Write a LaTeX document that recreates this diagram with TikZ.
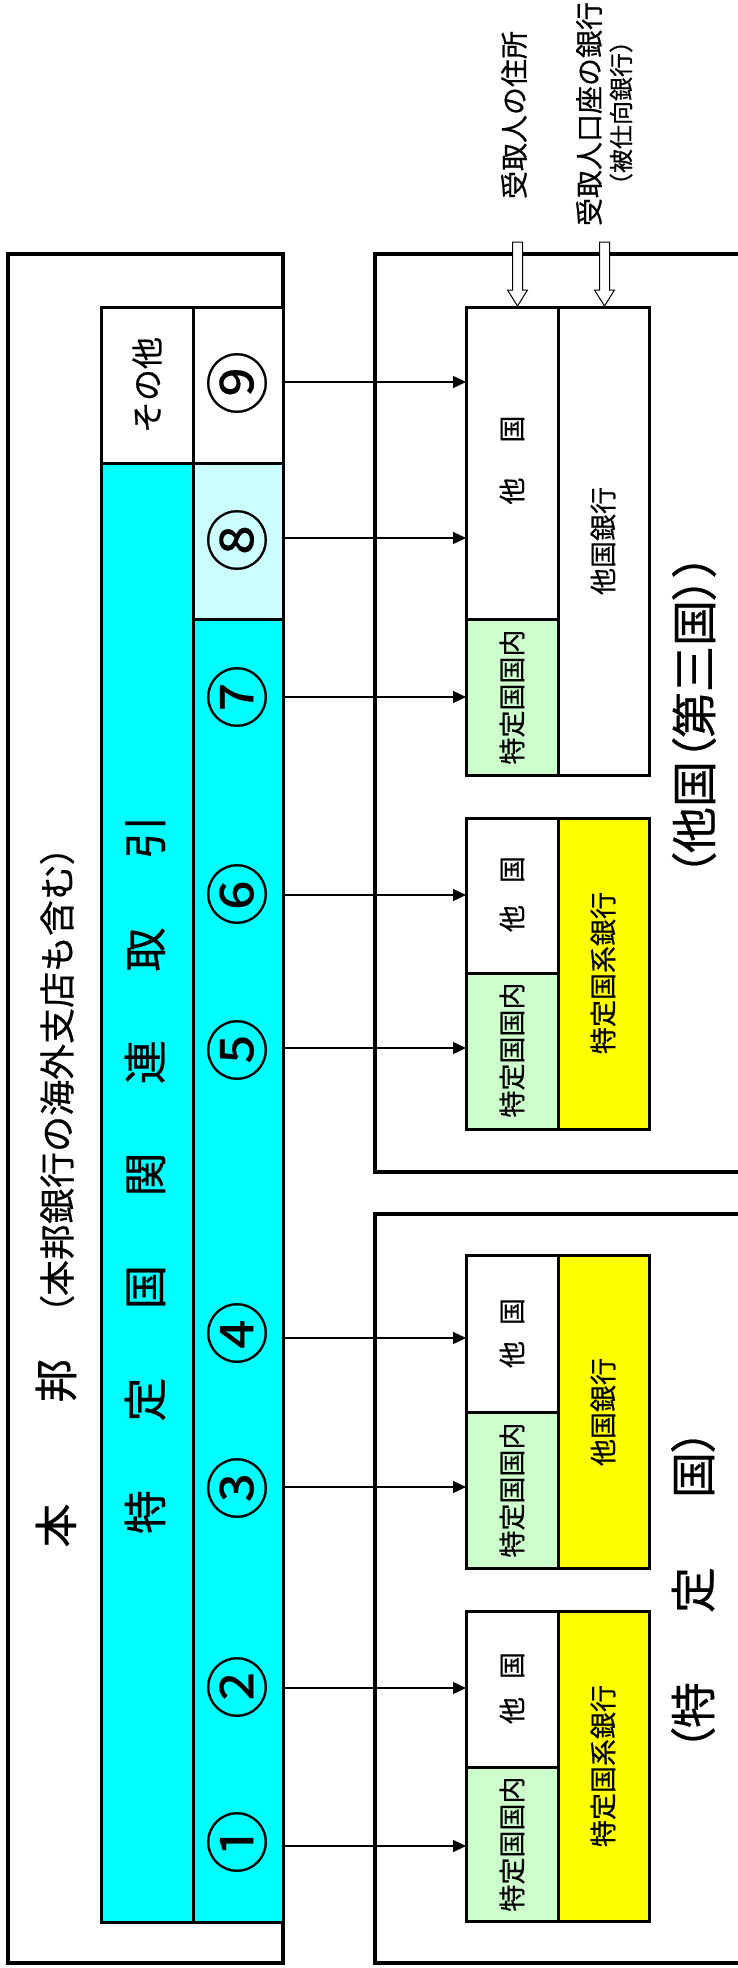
\documentclass[tikz,border=0pt]{standalone}
\usepackage{fontspec}
\setmainfont{Noto Sans CJK JP}[FakeBold=0.5]
\newfontfamily\jpp{Noto Sans CJK JP}[RawFeature=+palt,FakeBold=0.5]
\newfontfamily\circfont{Noto Sans CJK JP}[FakeBold=0.3]
\usetikzlibrary{arrows.meta,fit}
\newcommand\fsz[1]{\fontsize{#1bp}{#1bp}\selectfont}
\newcommand\lpar{{\jpp （}}
\newcommand\rpar{{\jpp ）}}
\definecolor{cyanA}{HTML}{00FFFF}
\definecolor{cyanB}{HTML}{CCFFFF}
\definecolor{greenA}{HTML}{CCFFCC}
\definecolor{yellowA}{HTML}{FFFF00}
\begin{document}
\begin{tikzpicture}[x=1bp,y=-1bp,
  every node/.style={inner sep=0pt, outer sep=0pt},
  outerbox/.style={draw, line width=4.5bp},
  cell/.style={draw, line width=3bp},
  flow/.style={line width=1.3bp, -{Triangle[length=13bp,width=12bp]}},
  hollow/.style={draw, fill=white, line width=1bp, line join=miter},
  vtext/.style={rotate=90, align=center}]
\clip (0,0) rectangle (738,1968);
\fill[white] (0,0) rectangle (738,1968);

% outer boxes
\node[outerbox, fit={(8,254) (283,1963)}] (home) {};
\node[outerbox, fit={(375,254) (790,1172)}] (third) {};
\node[outerbox, fit={(375,1214) (790,1963)}] (spec) {};

% inner table
\node[cell, fill=white, fit={(101,307) (193,463)}] (other) {};
\node[cell, fill=white, fit={(193,307) (283,463)}] (c9) {};
\node[cell, fill=cyanA, fit={(101,463) (193,1922)}] (spc) {};
\node[cell, fill=cyanB, fit={(193,463) (283,619)}] (c8) {};
\node[cell, fill=cyanA, fit={(193,619) (283,1922)}] (c17) {};

% box A
\node[cell, fill=white, fit={(466,307) (558,619)}] (aO) {};
\node[cell, fill=greenA, fit={(466,619) (558,775)}] (aG) {};
\node[cell, fill=white, fit={(558,307) (649,775)}] (aB) {};
% box B
\node[cell, fill=white, fit={(466,818) (558,973)}] (bO) {};
\node[cell, fill=greenA, fit={(466,973) (558,1129)}] (bG) {};
\node[cell, fill=yellowA, fit={(558,818) (649,1129)}] (bB) {};
% box C
\node[cell, fill=white, fit={(466,1255) (558,1412)}] (cO) {};
\node[cell, fill=greenA, fit={(466,1412) (558,1568)}] (cG) {};
\node[cell, fill=yellowA, fit={(558,1255) (649,1568)}] (cB) {};
% box D
\node[cell, fill=white, fit={(466,1611) (558,1767)}] (dO) {};
\node[cell, fill=greenA, fit={(466,1767) (558,1921)}] (dG) {};
\node[cell, fill=yellowA, fit={(558,1611) (649,1921)}] (dB) {};

% left texts
\node[vtext, font=\fsz{44}] (t1) at (56,1453) {本\hspace{101bp}邦};
\node[vtext, font=\fsz{36}] (t2) at (57,1080) {\lpar 本邦銀行の海外支店も含む\rpar};
\node[vtext, font=\fsz{44}] (t3) at (145,1174.5) {特\hspace{68.5bp}定\hspace{68.5bp}国\hspace{68.5bp}関\hspace{68.5bp}連\hspace{68.5bp}取\hspace{68.5bp}引};
\node[vtext, font=\fsz{32}] (t4) at (147,385) {その他};

% circled numbers
\foreach \k/\y in {1/1842,2/1687,3/1488,4/1333,5/1050,6/894,7/697,8/540,9/383}{
  \node[vtext, font=\circfont\fsz{64}] (n\k) at (237,\y) {\ifcase\k\or ①\or ②\or ③\or ④\or ⑤\or ⑥\or ⑦\or ⑧\or ⑨\fi};
}

% box texts
\node[vtext, font=\fsz{27}] (aOt) at (512,460) {他\hspace{35bp}国};
\node[vtext, font=\fsz{27}] (aGt) at (512,697) {特定国国内};
\node[vtext, font=\fsz{27}] (aBt) at (603,541) {他国銀行};
\node[vtext, font=\fsz{27}] (bOt) at (512,894) {他\hspace{22bp}国};
\node[vtext, font=\fsz{27}] (bGt) at (512,1050) {特定国国内};
\node[vtext, font=\fsz{27}] (bBt) at (603,973) {特定国系銀行};
\node[vtext, font=\fsz{27}] (cOt) at (512,1333) {他\hspace{16bp}国};
\node[vtext, font=\fsz{27}] (cGt) at (512,1490) {特定国国内};
\node[vtext, font=\fsz{27}] (cBt) at (603,1412) {他国銀行};
\node[vtext, font=\fsz{27}] (dOt) at (512,1688) {他\hspace{18bp}国};
\node[vtext, font=\fsz{27}] (dGt) at (512,1844) {特定国国内};
\node[vtext, font=\fsz{27}] (dBt) at (603,1766) {特定国系銀行};

% region labels
\node[vtext, font=\fsz{46}] (lab3) at (694,715) {\lpar 他国\lpar 第三国\rpar\rpar};
\node[vtext, font=\fsz{46}] (labS) at (693,1590) {\lpar 特\hspace{69bp}定\hspace{69bp}国\rpar};

% top labels
\node[vtext, font=\fsz{28}] (addr) at (514,115) {受取人の住所};
\node[vtext, font=\fsz{28}] (acct) at (589,114) {受取人口座の銀行};
\node[vtext, font=\fsz{24}] (acct2) at (621,113) {（被仕向銀行）};

% flow arrows
\foreach \k/\y/\b in {9/382/aO,8/538/aO,7/697/aG,6/895/bO,5/1048/bG,4/1338/cO,3/1487/cG,2/1688/dO,1/1846/dG}{
  \coordinate (s\k) at (285,\y);
  \draw[flow] (s\k) -- (s\k -| \b.west);
}

% hollow arrows
\coordinate (r1) at (517.5,306);
\coordinate (r2) at (604.5,306);
\foreach \r in {r1,r2}{
  \draw[hollow] (\r) -- ++(-10,-16) -- ++(5,0) -- ++(0,-48) -- ++(10,0) -- ++(0,48) -- ++(5,0) -- cycle;
}
\end{tikzpicture}
\end{document}
